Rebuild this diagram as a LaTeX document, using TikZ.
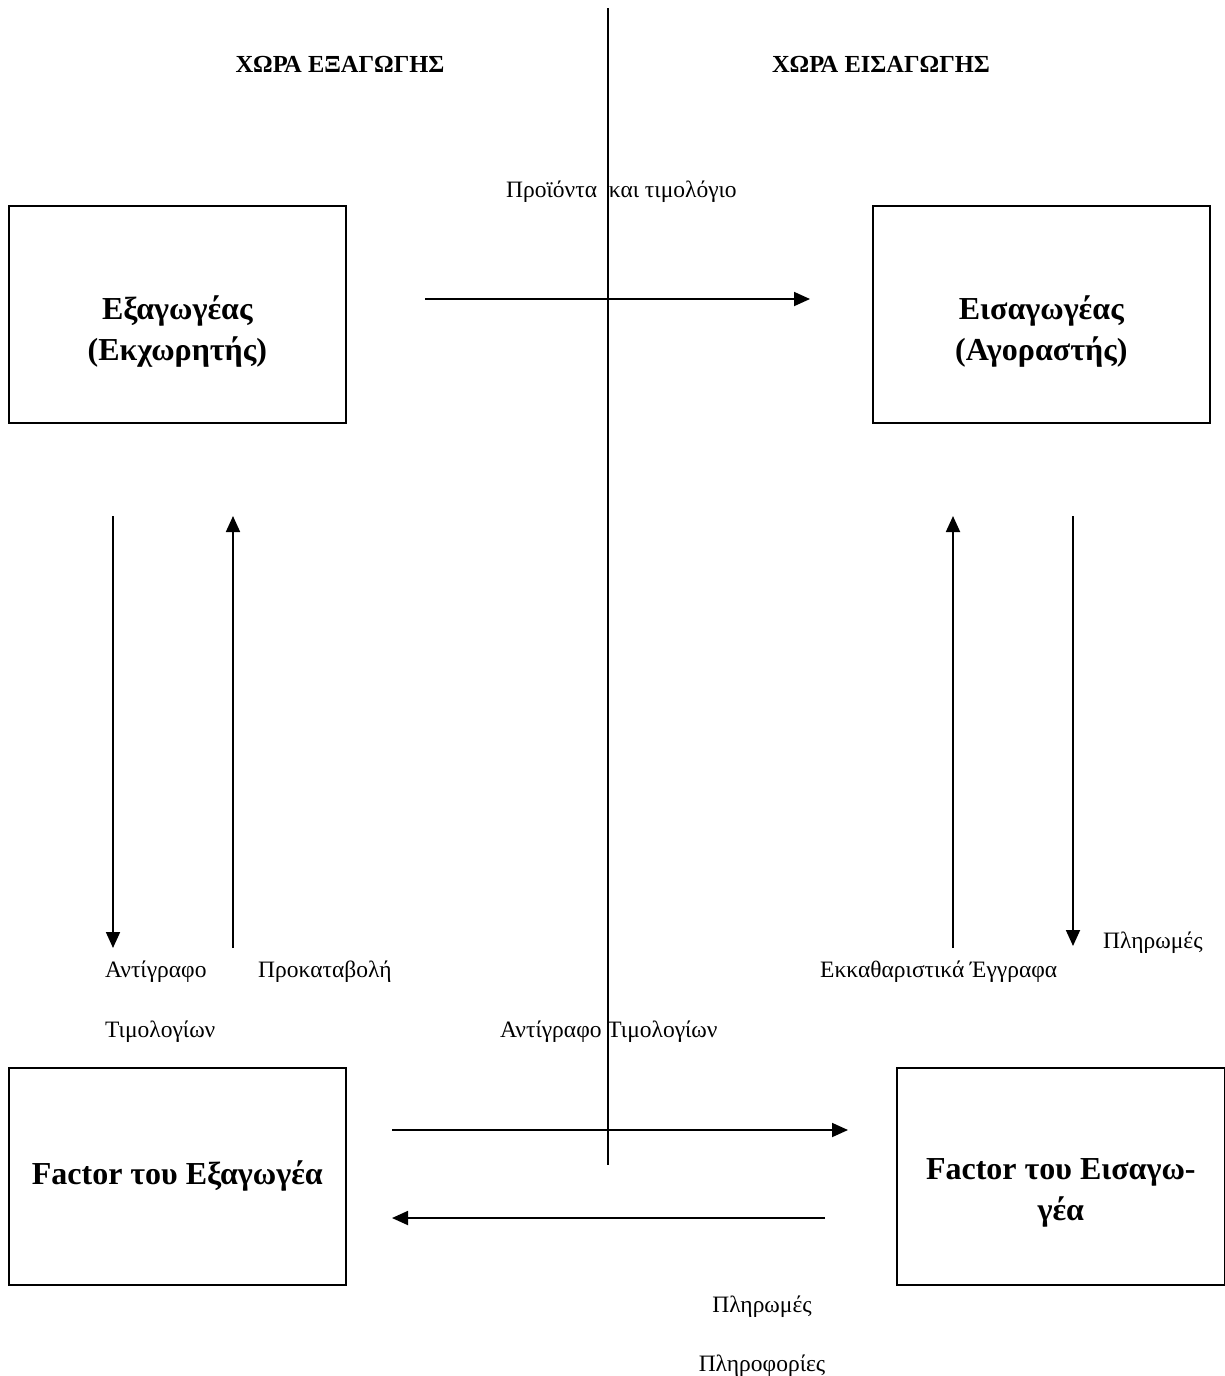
\documentclass[tikz,border=0pt]{standalone}
\usepackage{fontspec}
\setmainfont{Liberation Serif}
\usetikzlibrary{arrows.meta}
\begin{document}
\begin{tikzpicture}[x=1pt,y=-1pt,
  box/.style={draw,line width=1.6pt,minimum width=337pt,minimum height=217pt,inner sep=0pt,anchor=north west},
  boxtext/.style={align=center,inner sep=0pt,font=\fontsize{32}{41}\selectfont\bfseries},
  flow/.style={line width=1.8pt,-{Triangle[length=16pt,width=14pt]}},
  lbl/.style={font=\fontsize{23.5}{28}\selectfont,inner sep=0pt},
  hdr/.style={font=\fontsize{24.5}{28}\selectfont\bfseries,inner sep=0pt}]
\useasboundingbox (0,0) rectangle (1224,1376);
% divider
\coordinate (dtop) at (608,8);
\coordinate (dbot) at (608,1165);
\draw[line width=1.8pt] (dtop) -- (dbot);
% headers
\node[hdr] (hl) at (340,64) {ΧΩΡΑ ΕΞΑΓΩΓΗΣ};
\node[hdr] (hr) at (881,64) {ΧΩΡΑ ΕΙΣΑΓΩΓΗΣ};
% boxes
\node[box] (exp) at (8,205) {};
\node[boxtext] (expt) at ([yshift=-17pt]exp.center) {Εξαγωγέας\\(Εκχωρητής)};
\node[box] (imp) at (872,205) {};
\node[boxtext] (impt) at ([yshift=-17pt]imp.center) {Εισαγωγέας\\(Αγοραστής)};
\node[box] (fexp) at (8,1067) {};
\node[boxtext] (fexpt) at (fexp.center) {Factor του Εξαγωγέα};
\node[box,minimum width=328pt] (fimp) at (896,1067) {};
\node[boxtext] (fimpt) at ([yshift=-17pt]fimp.center) {Factor του Εισαγω-\\γέα};
% top flow
\coordinate (a1s) at (425,299);
\coordinate (a1e) at (810,299);
\draw[flow] (a1s) -- (a1e);
\node[lbl,anchor=west] (l1) at (506,192) {Προϊόντα \ και τιμολόγιο};
% left verticals
\coordinate (a2s) at (113,516);
\coordinate (a2e) at (113,948);
\draw[flow] (a2s) -- (a2e);
\coordinate (a3s) at (233,948);
\coordinate (a3e) at (233,516);
\draw[flow] (a3s) -- (a3e);
\node[lbl,anchor=west] (l2) at (105,972) {Αντίγραφο};
\node[lbl,anchor=west] (l3) at (258,972) {Προκαταβολή};
\node[lbl,anchor=west] (l4) at (105,1032) {Τιμολογίων};
% right verticals
\coordinate (a4s) at (953,948);
\coordinate (a4e) at (953,516);
\draw[flow] (a4s) -- (a4e);
\coordinate (a5s) at (1073,516);
\coordinate (a5e) at (1073,946);
\draw[flow] (a5s) -- (a5e);
\node[lbl,anchor=west] (l5) at (1103,943) {Πληρωμές};
\node[lbl,anchor=west] (l6) at (820,972) {Εκκαθαριστικά Έγγραφα};
% bottom flows
\node[lbl,anchor=west] (l7) at (500,1032) {Αντίγραφο Τιμολογίων};
\coordinate (a6s) at (392,1130);
\coordinate (a6e) at (848,1130);
\draw[flow] (a6s) -- (a6e);
\coordinate (a7s) at (825,1218);
\coordinate (a7e) at (392,1218);
\draw[flow] (a7s) -- (a7e);
\node[lbl] (l8) at (762,1307) {Πληρωμές};
\node[lbl] (l9) at (762,1366) {Πληροφορίες};
\end{tikzpicture}
\end{document}
